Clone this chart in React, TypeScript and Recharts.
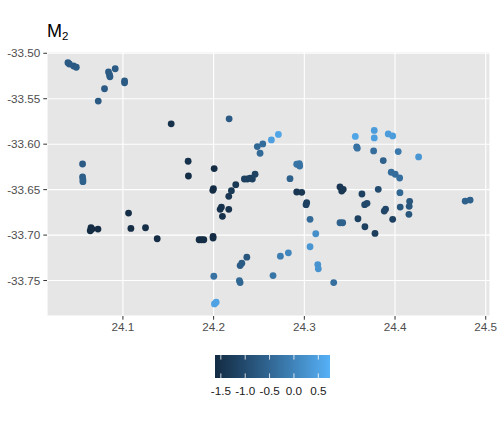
import React from "react";
import {
  CartesianGrid,
  Scatter,
  ScatterChart,
  XAxis,
  YAxis,
} from "recharts";

// point longitude, latitude and M2 value
const lon = [
  24.0394, 24.0409, 24.0456, 24.0486, 24.0841, 24.0852, 24.0857, 24.0915, 24.1018, 24.1018,
  24.0797, 24.0728, 24.1532, 24.2171, 24.0555, 24.0555, 24.0559, 24.0559, 24.1719, 24.1722,
  24.2006, 24.0648, 24.064, 24.0659, 24.0725, 24.1062, 24.1088, 24.1249, 24.1378, 24.184,
  24.1866, 24.1892, 24.1994, 24.1994, 24.1998, 24.1991, 24.2086, 24.2072, 24.2167, 24.2097,
  24.2167, 24.2196, 24.2244, 24.2339, 24.2372, 24.2402, 24.2427, 24.2457, 24.2512, 24.2482,
  24.2542, 24.2637, 24.2714, 24.2916, 24.2945, 24.2949, 24.2842, 24.2916, 24.2971, 24.3026,
  24.3019, 24.3063, 24.3126, 24.3063, 24.3148, 24.3154, 24.3324, 24.2655, 24.2736, 24.2824,
  24.2284, 24.2292, 24.2292, 24.2311, 24.2366, 24.2002, 24.2009, 24.2028, 24.3562, 24.3771,
  24.3771, 24.3925, 24.3974, 24.3577, 24.3584, 24.3764, 24.4035, 24.426, 24.387, 24.3958,
  24.4002, 24.4051, 24.3393, 24.3412, 24.3429, 24.3635, 24.3815, 24.4054, 24.3665, 24.3691,
  24.4161, 24.4156, 24.4057, 24.3896, 24.3881, 24.4153, 24.3591, 24.3974, 24.3393, 24.3423,
  24.3668, 24.3779, 24.4773, 24.4828,
];
const lat = [
  -33.5104, -33.5118, -33.514, -33.5154, -33.5206, -33.5236, -33.5258, -33.517, -33.5305, -33.5324,
  -33.539, -33.5526, -33.5776, -33.5721, -33.6218, -33.6361, -33.639, -33.6412, -33.6188, -33.635,
  -33.6268, -33.6919, -33.6952, -33.6934, -33.6934, -33.6758, -33.6927, -33.6919, -33.704, -33.7051,
  -33.7051, -33.7051, -33.7015, -33.7033, -33.6489, -33.6508, -33.6692, -33.6717, -33.6717, -33.6794,
  -33.6574, -33.6511, -33.6445, -33.6383, -33.6383, -33.6375, -33.6383, -33.6331, -33.61, -33.6026,
  -33.5997, -33.5953, -33.5893, -33.6221, -33.6213, -33.624, -33.6379, -33.6526, -33.653, -33.6643,
  -33.6665, -33.6827, -33.6985, -33.7128, -33.7324, -33.7371, -33.7522, -33.7445, -33.7232, -33.7195,
  -33.75, -33.7522, -33.7335, -33.7309, -33.7243, -33.7453, -33.7757, -33.7739, -33.5915, -33.5849,
  -33.5931, -33.5887, -33.5909, -33.603, -33.6044, -33.6074, -33.6081, -33.614, -33.618, -33.6309,
  -33.6331, -33.6372, -33.6471, -33.6515, -33.6497, -33.6548, -33.6497, -33.6533, -33.6665, -33.6651,
  -33.6629, -33.6684, -33.6692, -33.6714, -33.6736, -33.6772, -33.682, -33.6827, -33.6864, -33.6864,
  -33.6908, -33.6982, -33.6626, -33.6615,
];
const m2 = [
  -0.7, -0.7, -0.7, -0.7, -0.7, -0.7, -0.7, -0.7, -0.7, -0.7,
  -0.7, -0.75, -1.5, -0.7, -0.7, -0.65, -0.6, -0.6, -1.5, -1.55,
  -1.6, -1.6, -1.6, -1.6, -1.6, -1.55, -1.6, -1.55, -1.6, -1.6,
  -1.6, -1.6, -1.6, -1.6, -1.6, -1.6, -1.5, -1.5, -1.45, -1.5,
  -1.4, -1.35, -1.35, -1.2, -1.2, -1.2, -1.2, -1.15, -0.45, -0.5,
  -0.4, 0.45, 0.55, -0.25, -0.25, -0.3, -0.6, -1.4, -1.4, -1.2,
  -1.2, -0.45, 0.2, 0.3, 0.25, 0.25, -0.35, -0.25, -0.1, 0.05,
  -0.45, -0.5, -0.7, -0.7, -0.8, -0.3, 0.5, 0.5, 0.55, 0.4,
  0.45, 0.4, 0.4, -0.3, -0.3, -0.4, -0.2, 0.3, -0.6, -0.4,
  -0.4, -0.35, -1.4, -1.4, -1.4, -1.2, -1.0, -0.5, -1.05, -1.05,
  -0.8, -0.8, -0.8, -1.1, -1.1, -0.8, -1.2, -1.2, -0.6, -0.6,
  -1.2, -1.25, -0.6, -0.6,
];

const xTicks = [24.1, 24.2, 24.3, 24.4, 24.5];
const yTicks = [-33.75, -33.7, -33.65, -33.6, -33.55, -33.5];
const legendTicks = [-1.5, -1.0, -0.5, 0.0, 0.5];
const colorLimits = [-1.62, 0.74];

const data = lon.map((x, i) => ({ lon: x, lat: lat[i], m2: m2[i] }));

// ggplot-style gradient, interpolated in CIELAB
function hexToLab(hex: string) {
  const c = [1, 3, 5].map((i) => parseInt(hex.slice(i, i + 2), 16) / 255);
  const lin = c.map((v) => (v <= 0.04045 ? v / 12.92 : Math.pow((v + 0.055) / 1.055, 2.4)));
  const X = (lin[0] * 0.4124 + lin[1] * 0.3576 + lin[2] * 0.1805) / 0.95047;
  const Y = lin[0] * 0.2126 + lin[1] * 0.7152 + lin[2] * 0.0722;
  const Z = (lin[0] * 0.0193 + lin[1] * 0.1192 + lin[2] * 0.9505) / 1.08883;
  const f = (t: number) => (t > 0.008856 ? Math.cbrt(t) : 7.787 * t + 16 / 116);
  return [116 * f(Y) - 16, 500 * (f(X) - f(Y)), 200 * (f(Y) - f(Z))];
}
function labToHex(lab: number[]) {
  const fy = (lab[0] + 16) / 116;
  const fx = fy + lab[1] / 500;
  const fz = fy - lab[2] / 200;
  const inv = (t: number) => (t * t * t > 0.008856 ? t * t * t : (t - 16 / 116) / 7.787);
  const X = inv(fx) * 0.95047;
  const Y = inv(fy);
  const Z = inv(fz) * 1.08883;
  const r = X * 3.2406 + Y * -1.5372 + Z * -0.4986;
  const g = X * -0.9689 + Y * 1.8758 + Z * 0.0415;
  const b = X * 0.0557 + Y * -0.204 + Z * 1.057;
  return (
    "#" +
    [r, g, b]
      .map((v) => {
        const s = v <= 0.0031308 ? 12.92 * v : 1.055 * Math.pow(v, 1 / 2.4) - 0.055;
        const n = Math.round(Math.min(1, Math.max(0, s)) * 255);
        return n.toString(16).padStart(2, "0");
      })
      .join("")
  );
}
const lowLab = hexToLab("#132B43");
const highLab = hexToLab("#56B1F7");
function colorFor(v: number) {
  const t = Math.min(1, Math.max(0, (v - colorLimits[0]) / (colorLimits[1] - colorLimits[0])));
  return labToHex(lowLab.map((l, i) => l + (highLab[i] - l) * t));
}

const font = "'Liberation Sans', Arial, sans-serif";

function Dot(props: any) {
  const { cx, cy, payload } = props;
  if (cx == null || cy == null) return null;
  return <circle cx={cx} cy={cy} r={3.4} fill={colorFor(payload.m2)} />;
}

function ColorBar() {
  const x0 = 215;
  const w = 115;
  const y0 = 355;
  const h = 23;
  const pos = (v: number) => x0 + ((v - colorLimits[0]) / (colorLimits[1] - colorLimits[0])) * w;
  const stops = Array.from({ length: 21 }, (_, i) => i / 20);
  return (
    <svg
      width={498}
      height={428}
      style={{ position: "absolute", left: 0, top: 0, pointerEvents: "none" }}
    >
      <defs>
        <linearGradient id="m2bar" x1="0" y1="0" x2="1" y2="0">
          {stops.map((s) => (
            <stop
              key={s}
              offset={s}
              stopColor={colorFor(colorLimits[0] + s * (colorLimits[1] - colorLimits[0]))}
            />
          ))}
        </linearGradient>
      </defs>
      <rect x={x0} y={y0} width={w} height={h} fill="url(#m2bar)" />
      {legendTicks.map((v) => (
        <g key={v}>
          <line x1={pos(v)} x2={pos(v)} y1={y0} y2={y0 + 4.6} stroke="#fff" strokeWidth={0.8} />
          <line x1={pos(v)} x2={pos(v)} y1={y0 + h - 4.6} y2={y0 + h} stroke="#fff" strokeWidth={0.8} />
          <text
            x={pos(v)}
            y={395}
            textAnchor="middle"
            fontSize={11.7}
            fontFamily={font}
            fill="#1a1a1a"
          >
            {v.toFixed(1)}
          </text>
        </g>
      ))}
    </svg>
  );
}

export default function App() {
  return (
    <div style={{ position: "absolute", left: 0, top: 0, width: 498, height: 428, background: "#fff" }}>
      <div
        style={{
          position: "absolute",
          left: 47,
          top: 19,
          fontFamily: font,
          fontSize: 18,
          color: "#000",
          lineHeight: "24px",
        }}
      >
        M<sub style={{ fontSize: 11.5, verticalAlign: "-3px" }}>2</sub>
      </div>
      <ScatterChart width={498} height={428} margin={{ top: 52, right: 8, bottom: 92, left: 0 }}>
        <CartesianGrid fill="#E6E6E6" stroke="#FFFFFF" strokeWidth={1.1} />
        <XAxis
          type="number"
          dataKey="lon"
          domain={[24.0163, 24.5047]}
          ticks={xTicks}
          allowDataOverflow
          axisLine={false}
          tickLine={{ stroke: "#333333", strokeWidth: 1 }}
          tickSize={3.7}
          tickMargin={3}
          height={20}
          tickFormatter={(v: number) => v.toFixed(1)}
          tick={{ fill: "#4D4D4D", fontSize: 11.7, fontFamily: font }}
        />
        <YAxis
          type="number"
          dataKey="lat"
          domain={[-33.789, -33.4986]}
          ticks={yTicks}
          allowDataOverflow
          axisLine={false}
          tickLine={{ stroke: "#333333", strokeWidth: 1 }}
          tickSize={3.7}
          tickMargin={3}
          width={47}
          tickFormatter={(v: number) => v.toFixed(2)}
          tick={{ fill: "#4D4D4D", fontSize: 11.7, fontFamily: font }}
        />
        <Scatter data={data} shape={<Dot />} isAnimationActive={false} />
      </ScatterChart>
      <ColorBar />
    </div>
  );
}
